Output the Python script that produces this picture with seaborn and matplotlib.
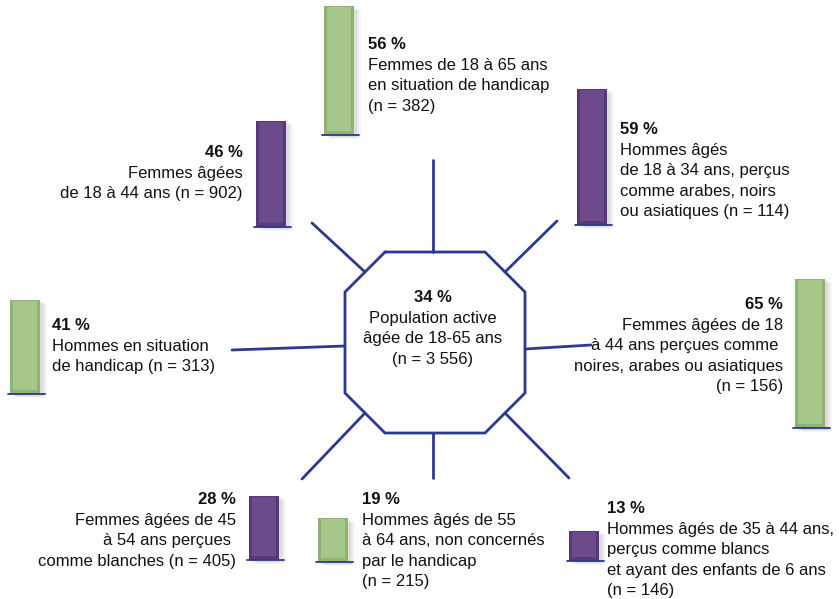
import numpy as np
import pandas as pd
import matplotlib.pyplot as plt
import seaborn as sns

# Data
pct = [56, 59, 65, 13, 19, 28, 41, 46]
titles = ["56 %", "59 %", "65 %", "13 %", "19 %", "28 %", "41 %", "46 %"]
descriptions = [
    "Femmes de 18 à 65 ans\nen situation de handicap\n(n = 382)",
    "Hommes âgés\nde 18 à 34 ans, perçus\ncomme arabes, noirs\nou asiatiques (n = 114)",
    "Femmes âgées de 18\nà 44 ans perçues comme \nnoires, arabes ou asiatiques\n(n = 156)",
    "Hommes âgés de 35 à 44 ans,\nperçus comme blancs\net ayant des enfants de 6 ans\n(n = 146)",
    "Hommes âgés de 55\nà 64 ans, non concernés\npar le handicap\n(n = 215)",
    "Femmes âgées de 45\nà 54 ans perçues \ncomme blanches (n = 405)",
    "Hommes en situation\nde handicap (n = 313)",
    "Femmes âgées\nde 18 à 44 ans (n = 902)",
]
bar_colour = ["green", "purple", "green", "purple", "green", "purple", "green", "purple"]
centre_title = "34 %"
centre_text = "Population active\nâgée de 18-65 ans\n(n = 3 556)"

# Layout (pixel coordinates, y downwards)
bar_x = [324, 577, 795, 569, 318, 249, 10, 256]
bar_base = [135, 225, 428, 561, 562, 560, 394, 227]
text_x = [368, 620, 783, 607, 362, 236, 52, 243]
text_y = [37, 122, 297, 501, 492, 492, 318, 145]
text_ha = ["left", "left", "right", "left", "left", "right", "left", "right"]
px_per_pct = 2.3
bar_w = 30

colours = {"green": "#a5c78a", "purple": "#6c4a8b"}
edges = {"green": "#8fb372", "purple": "#573878"}
navy = "#2b3990"
fs = 12
ls = 1.44

sns.set_theme(style="white")
plt.rcParams["font.family"] = ["Liberation Sans", "DejaVu Sans"]

fig = plt.figure(figsize=(8.39, 5.99), dpi=100)
ax = fig.add_axes([0, 0, 1, 1])
ax.set_xlim(0, 839)
ax.set_ylim(599, 0)
ax.axis("off")

# Octagon and spokes
octagon = np.array([(385, 252), (485, 252), (525, 292), (525, 393), (485, 433),
                    (385, 433), (345, 393), (345, 292), (385, 252)])
ax.plot(octagon[:, 0], octagon[:, 1], color=navy, lw=2, solid_joinstyle="miter")
spokes = [((433, 160), (433, 252)), ((505, 272), (557, 221)),
          ((525, 349), (591, 345)), ((505, 413), (569, 478)),
          ((433, 433), (433, 478)), ((365, 413), (302, 479)),
          ((345, 346), (232, 350)), ((365, 272), (312, 223))]
for (x0, y0), (x1, y1) in spokes:
    ax.plot([x0, x1], [y0, y1], color=navy, lw=2)

# Bars
for i, p in enumerate(pct):
    h = p * px_per_pct
    x, b = bar_x[i], bar_base[i]
    c = bar_colour[i]
    # soft shadow
    for k, a in zip([7, 5, 3], [0.05, 0.07, 0.09]):
        ax.bar(x + k, -h, bottom=b + k * 0.6, width=bar_w, align="edge",
               color="#555555", alpha=a, linewidth=0)
    ax.bar(x, -h, bottom=b, width=bar_w, align="edge", color=edges[c], linewidth=0)
    ax.bar(x + 3, -(h - 5), bottom=b - 4, width=bar_w - 6, align="edge",
           color=colours[c], linewidth=0)
    ax.plot([x - 2, x + bar_w + 5], [b, b], color=navy, lw=1.3)

    ax.text(text_x[i], text_y[i], titles[i], ha=text_ha[i], va="top",
            fontsize=fs, fontweight="bold", color="#111111")
    ax.text(text_x[i], text_y[i] + 21, descriptions[i], ha=text_ha[i], va="top",
            multialignment=text_ha[i], fontsize=fs, linespacing=ls, color="#111111")

ax.text(433, 290, centre_title, ha="center", va="top", fontsize=fs,
        fontweight="bold", color="#111111")
ax.text(433, 311, centre_text, ha="center", va="top", multialignment="center",
        fontsize=fs, linespacing=ls, color="#111111")

fig.savefig("out.png", dpi=100)
